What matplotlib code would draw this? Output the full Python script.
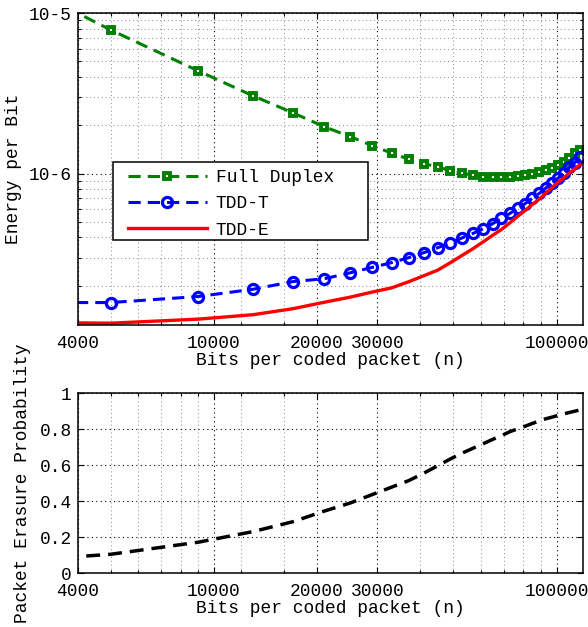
import matplotlib
matplotlib.use("Agg")
import matplotlib.pyplot as plt
from matplotlib.ticker import NullFormatter, FixedLocator
from matplotlib.patches import Rectangle

# ---------------- data ----------------
n_bits = [1000, 5000, 9000, 13000, 17000, 21000, 25000, 29000, 33000, 37000,
          41000, 45000, 49000, 53000, 57000, 61000, 65000, 69000, 73000, 77000,
          81000, 85000, 89000, 93000, 97000, 101000, 105000, 109000, 113000, 117000]

full_duplex = [4.52e-5, 7.84e-6, 4.36e-6, 3.05e-6, 2.39e-6, 1.957e-6, 1.697e-6, 1.492e-6,
               1.341e-6, 1.230e-6, 1.153e-6, 1.098e-6, 1.044e-6, 1.007e-6, 9.76e-7, 9.55e-7,
               9.48e-7, 9.48e-7, 9.54e-7, 9.61e-7, 9.77e-7, 9.96e-7, 1.020e-6, 1.050e-6,
               1.088e-6, 1.123e-6, 1.175e-6, 1.250e-6, 1.337e-6, 1.410e-6]

tdd_t = [1.573e-7, 1.573e-7, 1.715e-7, 1.903e-7, 2.125e-7, 2.212e-7, 2.41e-7, 2.607e-7,
         2.788e-7, 2.995e-7, 3.217e-7, 3.455e-7, 3.711e-7, 3.976e-7, 4.239e-7, 4.533e-7,
         4.871e-7, 5.254e-7, 5.642e-7, 6.06e-7, 6.51e-7, 7.02e-7, 7.53e-7, 8.13e-7,
         8.73e-7, 9.38e-7, 1.014e-6, 1.094e-6, 1.170e-6, 1.266e-6]

tdd_e = [1.205e-7, 1.17e-7, 1.24e-7, 1.321e-7, 1.44e-7, 1.58e-7, 1.70e-7, 1.829e-7,
         1.942e-7, 2.12e-7, 2.312e-7, 2.505e-7, 2.788e-7, 3.095e-7, 3.405e-7, 3.754e-7,
         4.12e-7, 4.482e-7, 4.934e-7, 5.413e-7, 5.906e-7, 6.427e-7, 6.935e-7, 7.567e-7,
         8.194e-7, 8.84e-7, 9.42e-7, 1.009e-6, 1.071e-6, 1.137e-6]

erasure_prob = [0.01, 0.104, 0.171, 0.230, 0.285, 0.344, 0.389, 0.436, 0.477, 0.513,
                0.555, 0.596, 0.634, 0.666, 0.693, 0.718, 0.742, 0.763, 0.785, 0.801,
                0.816, 0.831, 0.845, 0.857, 0.866, 0.876, 0.884, 0.892, 0.899, 0.906]

x_ticks = [4000, 10000, 20000, 30000, 100000]
x_ticklabels = ["4000", "10000", "20000", "30000", "100000"]
x_minor = [5000, 6000, 7000, 8000, 9000, 12000, 16000,
           40000, 50000, 60000, 70000, 80000, 90000]
top_yticks = [1e-6, 1e-5]
top_yticklabels = ["10-6", "10-5"]
top_yminor = [2e-7, 3e-7, 4e-7, 5e-7, 6e-7, 7e-7, 8e-7, 9e-7,
              2e-6, 3e-6, 4e-6, 5e-6, 6e-6, 7e-6, 8e-6, 9e-6]
bot_yticks = [0, 0.2, 0.4, 0.6, 0.8, 1]
bot_yticklabels = ["0", "0.2", "0.4", "0.6", "0.8", "1"]

# ---------------- style ----------------
FS = 12.9
plt.rcParams["font.family"] = ["Liberation Mono", "DejaVu Sans Mono"]
plt.rcParams["font.size"] = FS

fig = plt.figure(figsize=(5.88, 6.27), dpi=100)
W, H = 588.0, 627.0
AX_L, AX_R = 77.5, 583.3
TOP_T, TOP_B = 13.0, 325.0
BOT_T, BOT_B = 393.0, 573.0
ax1 = fig.add_axes([AX_L / W, 1 - TOP_B / H, (AX_R - AX_L) / W, (TOP_B - TOP_T) / H])
ax2 = fig.add_axes([AX_L / W, 1 - BOT_B / H, (AX_R - AX_L) / W, (BOT_B - BOT_T) / H])

dot = (0, (1, 3))

def style_axes(ax):
    ax.set_xscale("log")
    ax.set_xlim(4000, 119600)
    ax.xaxis.set_major_locator(FixedLocator(x_ticks))
    ax.set_xticklabels(x_ticklabels)
    ax.xaxis.set_minor_locator(FixedLocator(x_minor))
    ax.xaxis.set_minor_formatter(NullFormatter())
    ax.tick_params(which="both", direction="in", top=True, right=True,
                   labelsize=FS, width=0.8)
    ax.tick_params(which="major", length=4.5)
    ax.tick_params(which="minor", length=2.5)
    ax.tick_params(axis="x", which="major", pad=7)
    ax.tick_params(axis="y", which="major", pad=4)
    ax.grid(True, which="major", linestyle=dot, color="black", linewidth=0.8)
    ax.grid(True, which="minor", linestyle=dot, color="#888888", linewidth=0.7)
    for s in ax.spines.values():
        s.set_linewidth(1.1)
    ax.set_xlabel("Bits per coded packet (n)", fontsize=FS, labelpad=0)

# ---------------- top panel ----------------
style_axes(ax1)
ax1.set_yscale("log")
ax1.set_ylim(1.14e-7, 1e-5)
ax1.yaxis.set_major_locator(FixedLocator(top_yticks))
ax1.set_yticklabels(top_yticklabels)
ax1.yaxis.set_minor_locator(FixedLocator(top_yminor))
ax1.yaxis.set_minor_formatter(NullFormatter())

ax1.plot(n_bits, full_duplex, color="#008000", linewidth=2.2, dashes=(4, 2.3),
         marker="s", markersize=3.8, markeredgewidth=2.8, markerfacecolor="white",
         markeredgecolor="#008000", label="Full Duplex")
ax1.plot(n_bits, tdd_t, color="#0000FF", linewidth=2.2, dashes=(4, 2.3),
         marker="o", markersize=7.3, markeredgewidth=2.3, markerfacecolor="none",
         markeredgecolor="#0000FF", label="TDD-T")
ax1.plot(n_bits, tdd_e, color="#FF0000", linewidth=2.4, linestyle="-", label="TDD-E")
ax1.set_ylabel("Energy per Bit", fontsize=FS, labelpad=5)

# legend frame drawn separately so the inner padding matches the reference
ax_h = TOP_B - TOP_T
ax_w = AX_R - AX_L
frame = Rectangle(((113 - AX_L) / ax_w, (TOP_B - 240) / ax_h),
                  255 / ax_w, 78 / ax_h, transform=ax1.transAxes,
                  facecolor="white", edgecolor="black", linewidth=1.1, zorder=5)
ax1.add_patch(frame)
leg = ax1.legend(loc="upper left",
                 bbox_to_anchor=((128 - AX_L) / ax_w, (TOP_B - 169) / ax_h),
                 frameon=False, handlelength=4.4, handletextpad=0.5,
                 labelspacing=0.52, borderpad=0, borderaxespad=0, numpoints=1,
                 fontsize=FS)
leg.set_zorder(6)

# ---------------- bottom panel ----------------
style_axes(ax2)
ax2.set_ylim(0, 1)
ax2.yaxis.set_major_locator(FixedLocator(bot_yticks))
ax2.set_yticklabels(bot_yticklabels)
ax2.plot(n_bits, erasure_prob, color="black", linewidth=2.5, dashes=(4, 2.3))
ax2.set_ylabel("Packet Erasure Probability", fontsize=FS, labelpad=6)

fig.savefig("out.png", dpi=100)
